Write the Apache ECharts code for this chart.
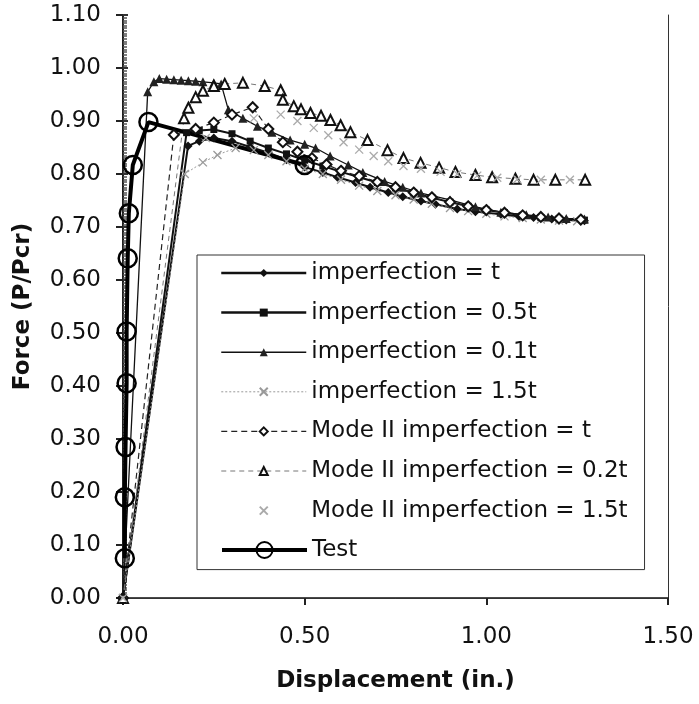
<!DOCTYPE html>
<html>
<head>
<meta charset="utf-8">
<script src="https://cdn.jsdelivr.net/npm/echarts@6/dist/echarts.min.js"></script>
<style>
html,body{margin:0;padding:0;background:#fff;}
#chart{width:699px;height:704px;background:#fff;}
</style>
</head>
<body>
<div id="chart"></div>
<script>
// ---- data ----
const seriesNames = [
  'imperfection = t',
  'imperfection = 0.5t',
  'imperfection = 0.1t',
  'imperfection = 1.5t',
  'Mode II imperfection = t',
  'Mode II imperfection = 0.2t',
  'Mode II imperfection = 1.5t',
  'Test'
];
const xTicks = [0, 0.5, 1.0, 1.5];

const tX = [0, 0.179, 0.21, 0.25, 0.30, 0.35, 0.40, 0.45, 0.50, 0.55, 0.59, 0.64, 0.68, 0.73, 0.77, 0.82, 0.86, 0.92, 0.97, 1.04, 1.09, 1.13, 1.18, 1.22, 1.27];
const tY = [0, 0.853, 0.862, 0.868, 0.862, 0.851, 0.840, 0.827, 0.813, 0.803, 0.794, 0.784, 0.775, 0.765, 0.757, 0.749, 0.743, 0.734, 0.729, 0.724, 0.720, 0.718, 0.715, 0.713, 0.712];

const halfTX = [0, 0.175, 0.21, 0.25, 0.30, 0.35, 0.40, 0.45, 0.50, 0.55, 0.60, 0.65, 0.70, 0.75, 0.80, 0.85, 0.90, 0.95, 1.00, 1.05, 1.10, 1.15, 1.20, 1.27];
const halfTY = [0, 0.878, 0.882, 0.884, 0.876, 0.862, 0.849, 0.838, 0.826, 0.815, 0.804, 0.794, 0.784, 0.774, 0.765, 0.755, 0.747, 0.739, 0.732, 0.727, 0.722, 0.718, 0.715, 0.713];

const tenthTX = [0, 0.068, 0.085, 0.10, 0.12, 0.14, 0.16, 0.18, 0.20, 0.22, 0.25, 0.27, 0.29, 0.33, 0.37, 0.41, 0.46, 0.50, 0.53, 0.57, 0.62, 0.66, 0.72, 0.77, 0.82, 0.90, 0.97, 1.04, 1.11, 1.17, 1.22, 1.27];
const tenthTY = [0, 0.955, 0.974, 0.980, 0.979, 0.978, 0.977, 0.976, 0.975, 0.974, 0.972, 0.970, 0.921, 0.905, 0.890, 0.879, 0.864, 0.856, 0.849, 0.834, 0.817, 0.803, 0.786, 0.775, 0.764, 0.751, 0.738, 0.728, 0.723, 0.719, 0.716, 0.715];

const onePointFiveTX = [0, 0.17, 0.22, 0.26, 0.31, 0.36, 0.40, 0.45, 0.50, 0.55, 0.60, 0.65, 0.70, 0.75, 0.80, 0.85, 0.90, 0.95, 1.00, 1.05, 1.10, 1.15, 1.20, 1.25];
const onePointFiveTY = [0, 0.800, 0.822, 0.836, 0.849, 0.845, 0.836, 0.824, 0.810, 0.800, 0.789, 0.778, 0.768, 0.760, 0.752, 0.744, 0.736, 0.730, 0.725, 0.720, 0.717, 0.714, 0.712, 0.711];

const m2tX = [0, 0.14, 0.20, 0.25, 0.30, 0.357, 0.40, 0.44, 0.48, 0.52, 0.56, 0.60, 0.65, 0.70, 0.75, 0.80, 0.85, 0.90, 0.95, 1.00, 1.05, 1.10, 1.15, 1.20, 1.26];
const m2tY = [0, 0.874, 0.885, 0.897, 0.912, 0.926, 0.885, 0.860, 0.842, 0.830, 0.818, 0.806, 0.796, 0.785, 0.775, 0.765, 0.756, 0.747, 0.739, 0.732, 0.727, 0.722, 0.719, 0.716, 0.714];

const m2fifthTX = [0, 0.168, 0.18, 0.20, 0.22, 0.25, 0.28, 0.33, 0.39, 0.434, 0.44, 0.47, 0.49, 0.516, 0.545, 0.571, 0.599, 0.626, 0.673, 0.728, 0.772, 0.819, 0.87, 0.915, 0.97, 1.016, 1.08, 1.13, 1.19, 1.272];
const m2fifthTY = [0, 0.905, 0.925, 0.945, 0.957, 0.966, 0.970, 0.972, 0.966, 0.958, 0.940, 0.928, 0.922, 0.915, 0.910, 0.902, 0.892, 0.879, 0.864, 0.845, 0.830, 0.821, 0.812, 0.804, 0.798, 0.794, 0.791, 0.789, 0.789, 0.789];

const m2onePointFiveTX = [0, 0.228, 0.36, 0.434, 0.48, 0.525, 0.565, 0.607, 0.65, 0.69, 0.73, 0.772, 0.82, 0.874, 0.92, 0.975, 1.03, 1.085, 1.15, 1.23];
const m2onePointFiveTY = [0, 0.868, 0.905, 0.912, 0.900, 0.887, 0.873, 0.860, 0.846, 0.834, 0.824, 0.815, 0.810, 0.804, 0.800, 0.797, 0.793, 0.790, 0.789, 0.789];

const testX = [0.005, 0.005, 0.007, 0.010, 0.010, 0.013, 0.016, 0.027, 0.070, 0.50];
const testY = [0.075, 0.19, 0.285, 0.405, 0.503, 0.641, 0.726, 0.817, 0.898, 0.817];

// ---- build ----
const zip = (xs, ys) => xs.map((x, i) => [x, ys[i]]);
const FONT = 'DejaVu Sans';
const XMARK = 'path://M0 0L10 10M10 0L0 10';

const chart = echarts.init(document.getElementById('chart'));

const series = [
  {
    name: seriesNames[0], type: 'line', data: zip(tX, tY),
    symbol: 'diamond', symbolSize: 9,
    lineStyle: {color: '#111', width: 2}, itemStyle: {color: '#111'}
  },
  {
    name: seriesNames[1], type: 'line', data: zip(halfTX, halfTY),
    symbol: 'rect', symbolSize: 7,
    lineStyle: {color: '#111', width: 2}, itemStyle: {color: '#111'}
  },
  {
    name: seriesNames[2], type: 'line', data: zip(tenthTX, tenthTY),
    symbol: 'triangle', symbolSize: 9,
    lineStyle: {color: '#111', width: 1.3}, itemStyle: {color: '#222'}
  },
  {
    name: seriesNames[3], type: 'line', data: zip(onePointFiveTX, onePointFiveTY),
    symbol: XMARK, symbolSize: 8,
    lineStyle: {color: '#999', width: 1, type: [2, 2]},
    itemStyle: {color: 'rgba(0,0,0,0)', borderColor: '#999', borderWidth: 1.3}
  },
  {
    name: seriesNames[4], type: 'line', data: zip(m2tX, m2tY),
    symbol: 'emptyDiamond', symbolSize: 10,
    lineStyle: {color: '#222', width: 1.2, type: [6, 4]},
    itemStyle: {color: '#111', borderWidth: 1.8}
  },
  {
    name: seriesNames[5], type: 'line', data: zip(m2fifthTX, m2fifthTY),
    symbol: 'emptyTriangle', symbolSize: 10,
    lineStyle: {color: '#777', width: 1, type: [5, 4]},
    itemStyle: {color: '#111', borderWidth: 2}
  },
  {
    name: seriesNames[6], type: 'line', data: zip(m2onePointFiveTX, m2onePointFiveTY),
    symbol: XMARK, symbolSize: 8,
    lineStyle: {color: '#aaa', width: 0, opacity: 0},
    itemStyle: {color: 'rgba(0,0,0,0)', borderColor: '#aaa', borderWidth: 1.3}
  },
  {
    name: seriesNames[7], type: 'line', data: zip(testX, testY),
    symbol: 'circle', symbolSize: 18,
    lineStyle: {color: '#000', width: 4},
    itemStyle: {color: 'rgba(0,0,0,0)', borderColor: '#000', borderWidth: 2.5}
  }
];
series.forEach(s => { s.animation = false; s.showAllSymbol = true; s.z = 3; });

const legendWidths = [2.5, 2.5, 1.5, 1, 1.2, 1, 0];
const legendItems = seriesNames.slice(0, 7).map((n, i) => ({name: n, lineStyle: {width: legendWidths[i]}}));

const frameAxis = {
  type: 'value', min: 0,
  axisLine: {show: true, lineStyle: {color: '#333', width: 1}},
  axisTick: {show: false}, axisLabel: {show: false}, splitLine: {show: false}
};

chart.setOption({
  animation: false,
  grid: {left: 123, right: 31, top: 15, bottom: 106},
  xAxis: [
    {
      type: 'value', min: xTicks[0], max: xTicks[xTicks.length - 1], interval: 0.5,
      name: 'Displacement (in.)', nameLocation: 'middle', nameGap: 72,
      nameTextStyle: {fontFamily: FONT, fontSize: 23, fontWeight: 'bold', color: '#111'},
      axisLine: {show: true, lineStyle: {color: '#111', width: 1.5}},
      axisTick: {show: true, length: 7, lineStyle: {color: '#222', width: 2}},
      axisLabel: {fontFamily: FONT, fontSize: 23, color: '#111', margin: 28, formatter: v => v.toFixed(2)},
      splitLine: {show: false}
    },
    Object.assign({}, frameAxis, {position: 'top', max: 1.5, interval: 0.5})
  ],
  yAxis: [
    {
      type: 'value', min: 0, max: 1.1, interval: 0.1,
      name: 'Force (P/Pcr)', nameLocation: 'middle', nameGap: 88, nameRotate: 90,
      nameTextStyle: {fontFamily: FONT, fontSize: 23, fontWeight: 'bold', color: '#111'},
      axisLine: {show: true, lineStyle: {color: '#111', width: 1.5}},
      axisTick: {show: true, length: 7, lineStyle: {color: '#222', width: 2}},
      axisLabel: {fontFamily: FONT, fontSize: 23, color: '#111', margin: 22, formatter: v => v.toFixed(2)},
      splitLine: {show: false}
    },
    {
      type: 'value', min: 0, max: 1.1, interval: 0.1, position: 'left', offset: 0,
      axisLine: {show: true, lineStyle: {color: '#111', width: 1.5}},
      axisTick: {show: true, inside: true, length: 5, lineStyle: {color: '#333', width: 2}},
      minorTick: {show: true, splitNumber: 20, length: 4, lineStyle: {color: '#555', width: 1.5}},
      axisLabel: {show: false},
      splitLine: {show: false}
    },
    Object.assign({}, frameAxis, {position: 'right', max: 1.1, interval: 0.1})
  ],
  legend: [
    {
      data: legendItems,
      orient: 'vertical', left: 197, top: 255,
      padding: [6, 17, 47, 23],
      itemWidth: 85, itemHeight: 10, itemGap: 15.6,
      textStyle: {fontFamily: FONT, fontSize: 23, color: '#111', lineHeight: 24},
      backgroundColor: '#fff', borderColor: '#333', borderWidth: 1, borderRadius: 0,
      selectedMode: false, z: 5
    },
    {
      data: [{name: seriesNames[7], lineStyle: {width: 4}}],
      orient: 'vertical', left: 220, top: 538,
      padding: 0,
      itemWidth: 85, itemHeight: 20,
      textStyle: {fontFamily: FONT, fontSize: 23, color: '#111', lineHeight: 24},
      selectedMode: false, z: 6
    }
  ],
  series: series
});
</script>
</body>
</html>
